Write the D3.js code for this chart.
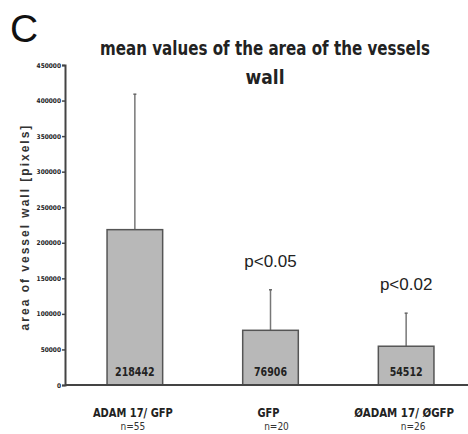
<!DOCTYPE html>
<html lang="en">
<head>
  <meta charset="UTF-8">
  <title>mean values of the area of the vessels wall</title>
  <style>
    * { margin: 0; padding: 0; }
    body { background: #fff; width: 468px; height: 434px; overflow: hidden; }
    svg { display: block; font-family: "Liberation Sans", Arial, sans-serif; }
    .cond { font-family: "DejaVu Sans Condensed", "Liberation Sans", sans-serif; }
  </style>
</head>
<body>
  <svg id="chart"></svg>
  <script src="https://cdnjs.cloudflare.com/ajax/libs/d3/7.8.5/d3.min.js"></script>
  <script>
    // values
    const categories = ['ADAM 17/ GFP', 'GFP', 'ØADAM 17/ ØGFP']
    const sampleSizes = ['n=55', 'n=20', 'n=26']
    const means = [218442, 76906, 54512]
    const sds = [190500, 57000, 46500]
    const pValues = ['', 'p<0.05', 'p<0.02']
    const yTicks = [0, 50000, 100000, 150000, 200000, 250000, 300000, 350000, 400000, 450000]

    const width = 468, height = 434
    const margin = { top: 65, right: 0, bottom: 49, left: 65 }

    const svg = d3.select('#chart')
      .attr('width', width)
      .attr('height', height)

    const y = d3.scaleLinear()
      .domain([0, 450000])
      .range([height - margin.bottom, margin.top])

    const x = d3.scaleBand()
      .domain(categories)
      .range([65, 476])
      .paddingInner(0.59)
      .paddingOuter(0.31)

    // squeeze a text horizontally around its anchor so it spans `w` pixels
    function squeeze(sel, cx, cy, w) {
      const len = sel.node().getComputedTextLength()
      const k = Math.min(1, w / len)
      sel.attr('x', 0).attr('y', 0)
        .attr('transform', `translate(${cx},${cy}) scale(${k},1)`)
    }

    // panel letter
    svg.append('text')
      .attr('x', 10).attr('y', 42)
      .attr('font-size', 39)
      .attr('fill', '#111')
      .text('C')

    // title
    const t1 = svg.append('text')
      .attr('class', 'cond')
      .attr('font-weight', 'bold')
      .attr('font-size', 19)
      .attr('fill', '#222')
      .attr('text-anchor', 'middle')
      .text('mean values of the area of the vessels')
    squeeze(t1, 265, 55, 330)
    svg.append('text')
      .attr('class', 'cond')
      .attr('font-weight', 'bold')
      .attr('font-size', 19)
      .attr('fill', '#222')
      .attr('text-anchor', 'middle')
      .attr('x', 265).attr('y', 84)
      .text('wall')

    // y axis
    const yAxis = d3.axisLeft(y)
      .tickValues(yTicks)
      .tickSize(3)
      .tickFormat(d3.format('d'))
    const gy = svg.append('g')
      .attr('transform', `translate(${margin.left},0)`)
      .call(yAxis)
    gy.select('.domain').attr('stroke', '#444').attr('stroke-width', 2)
    gy.selectAll('.tick line').attr('stroke', '#444').attr('stroke-width', 1.5)
    gy.selectAll('.tick text')
      .attr('class', 'cond')
      .attr('font-size', 6.5)
      .attr('font-weight', 'bold')
      .attr('fill', '#222')
      .attr('x', -4)

    svg.append('text')
      .attr('text-anchor', 'middle')
      .attr('font-size', 12)
      .attr('font-weight', 'bold')
      .attr('letter-spacing', 2)
      .attr('fill', '#333')
      .attr('transform', `translate(29, 227) rotate(-90)`)
      .text('area of vessel wall [pixels]')

    // error bars
    const err = svg.append('g')
    categories.forEach((c, i) => {
      const cx = x(c) + x.bandwidth() / 2
      err.append('line')
        .attr('x1', cx).attr('x2', cx)
        .attr('y1', y(means[i])).attr('y2', y(means[i] + sds[i]))
        .attr('stroke', '#777').attr('stroke-width', 1.5)
      err.append('line')
        .attr('x1', cx - 1.5).attr('x2', cx + 1.5)
        .attr('y1', y(means[i] + sds[i])).attr('y2', y(means[i] + sds[i]))
        .attr('stroke', '#666').attr('stroke-width', 1.5)
    })

    // bars
    svg.append('g')
      .selectAll('rect')
      .data(means)
      .join('rect')
      .attr('x', (d, i) => x(categories[i]))
      .attr('y', d => y(d))
      .attr('width', x.bandwidth())
      .attr('height', d => y(0) - y(d))
      .attr('fill', '#b8b8b8')
      .attr('stroke', '#555')
      .attr('stroke-width', 1.5)

    // values inside bars
    svg.append('g')
      .selectAll('text')
      .data(means)
      .join('text')
      .attr('class', 'cond')
      .attr('text-anchor', 'middle')
      .attr('font-size', 12)
      .attr('font-weight', 'bold')
      .attr('fill', '#222')
      .text(d => d)
      .each(function (d, i) {
        squeeze(d3.select(this), x(categories[i]) + x.bandwidth() / 2, 376, String(d).length * 6.6)
      })

    // p-values
    svg.append('g')
      .selectAll('text')
      .data(pValues)
      .join('text')
      .attr('x', (d, i) => x(categories[i]) + x.bandwidth() / 2)
      .attr('y', (d, i) => y(means[i] + sds[i]) - 23)
      .attr('text-anchor', 'middle')
      .attr('font-size', 17)
      .attr('fill', '#222')
      .text(d => d)

    // x axis baseline
    svg.append('line')
      .attr('x1', margin.left).attr('x2', width)
      .attr('y1', y(0)).attr('y2', y(0))
      .attr('stroke', '#444').attr('stroke-width', 2)

    // category labels
    const cat = svg.append('g')
    categories.forEach((c, i) => {
      const cx = x(c) + x.bandwidth() / 2
      const lab = cat.append('text')
        .attr('class', 'cond')
        .attr('text-anchor', 'middle')
        .attr('font-size', 12)
        .attr('font-weight', 'bold')
        .attr('fill', '#222')
        .text(c)
      squeeze(lab, cx - 2, 417, [80, 22, 100][i])
      cat.append('text')
        .attr('class', 'cond')
        .attr('x', cx + [-2, 6, 7][i]).attr('y', 430)
        .attr('text-anchor', 'middle')
        .attr('font-size', 10)
        .attr('fill', '#333')
        .text(sampleSizes[i])
    })
  </script>
</body>
</html>
